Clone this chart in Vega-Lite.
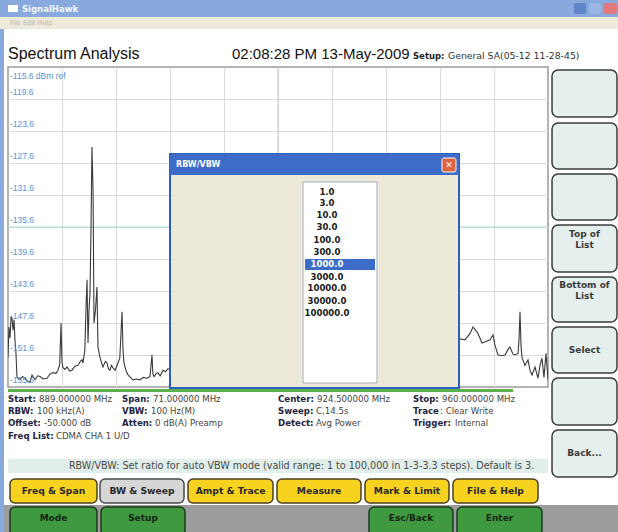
{
  "$schema": "https://vega.github.io/schema/vega-lite/v6.json",
  "autosize": {"type": "none"},
  "width": 540,
  "height": 320,
  "padding": {"left": 8, "top": 67, "right": 70, "bottom": 145},
  "background": "#ffffff",
  "config": {"view": {"stroke": "#9a9a9a", "strokeWidth": 1.5, "fill": "#ffffff"}, "text": {"font": "DejaVu Sans"}},
  "encoding": {
    "x": {"field": "x", "type": "quantitative", "scale": {"domain": [889, 960], "nice": false, "zero": false},
      "axis": {"values": [896.1, 903.2, 910.3, 917.4, 924.5, 931.6, 938.7, 945.8, 952.9], "grid": true, "gridColor": "#dadada", "labels": false, "ticks": false, "domain": false, "title": null}},
    "y": {"field": "y", "type": "quantitative", "scale": {"domain": [-155.6, -115.6], "nice": false, "zero": false},
      "axis": {"values": [-119.6, -123.6, -127.6, -131.6, -135.6, -139.6, -143.6, -147.6, -151.6], "grid": true, "gridColor": "#dadada", "labels": false, "ticks": false, "domain": false, "title": null}}
  },
  "layer": [
    {"data": {"values": [{"x": 924.5, "x2": 924.5, "y": -115.6, "y2": -155.6}, {"x": 889, "x2": 960, "y": -135.6, "y2": -135.6}]},
     "mark": {"type": "rule", "color": "#a9dcd6", "strokeWidth": 1}, "encoding": {"x2": {"field": "x2"}, "y2": {"field": "y2"}}},
    {"data": {"values": [
      {"x": 889.00, "y": -151.9}, {"x": 889.13, "y": -148.1}, {"x": 889.26, "y": -149.5}, {"x": 889.40, "y": -146.9}, {"x": 889.53, "y": -147.0}, {"x": 889.66, "y": -148.5}, {"x": 889.79, "y": -147.2}, {"x": 889.92, "y": -149.8}, {"x": 890.05, "y": -151.4}, {"x": 890.18, "y": -154.4}, {"x": 890.58, "y": -154.7}, {"x": 890.90, "y": -154.3}, {"x": 891.24, "y": -154.5}, {"x": 891.60, "y": -154.9}, {"x": 891.89, "y": -155.0}, {"x": 892.16, "y": -154.1}, {"x": 892.55, "y": -154.7}, {"x": 892.90, "y": -154.2}, {"x": 893.21, "y": -154.3}, {"x": 893.60, "y": -154.6}, {"x": 894.13, "y": -154.5}, {"x": 894.50, "y": -154.0}, {"x": 894.92, "y": -153.8}, {"x": 895.30, "y": -153.9}, {"x": 895.57, "y": -153.5}, {"x": 895.80, "y": -152.8}, {"x": 895.97, "y": -147.6}, {"x": 896.10, "y": -152.5}, {"x": 896.23, "y": -153.2}, {"x": 896.50, "y": -153.4}, {"x": 896.76, "y": -153.1}, {"x": 897.10, "y": -153.6}, {"x": 897.41, "y": -153.5}, {"x": 897.80, "y": -153.0}, {"x": 898.20, "y": -152.9}, {"x": 898.50, "y": -152.4}, {"x": 898.73, "y": -152.2}, {"x": 898.86, "y": -152.6}, {"x": 899.10, "y": -151.0}, {"x": 899.26, "y": -145.6}, {"x": 899.39, "y": -142.2}, {"x": 899.52, "y": -150.1}, {"x": 899.65, "y": -146.0}, {"x": 899.78, "y": -143.9}, {"x": 899.91, "y": -136.0}, {"x": 900.04, "y": -125.6}, {"x": 900.18, "y": -131.0}, {"x": 900.31, "y": -147.6}, {"x": 900.50, "y": -146.0}, {"x": 900.70, "y": -143.1}, {"x": 900.83, "y": -150.6}, {"x": 901.10, "y": -151.9}, {"x": 901.30, "y": -152.6}, {"x": 901.49, "y": -153.1}, {"x": 901.80, "y": -152.4}, {"x": 902.02, "y": -152.6}, {"x": 902.20, "y": -153.3}, {"x": 902.41, "y": -153.5}, {"x": 902.60, "y": -152.9}, {"x": 902.81, "y": -153.2}, {"x": 903.10, "y": -153.5}, {"x": 903.46, "y": -152.6}, {"x": 903.70, "y": -152.0}, {"x": 903.99, "y": -146.2}, {"x": 904.12, "y": -151.0}, {"x": 904.25, "y": -152.6}, {"x": 904.50, "y": -153.5}, {"x": 904.78, "y": -154.1}, {"x": 905.10, "y": -154.4}, {"x": 905.44, "y": -154.7}, {"x": 905.90, "y": -154.6}, {"x": 906.36, "y": -154.7}, {"x": 906.80, "y": -154.4}, {"x": 907.28, "y": -154.5}, {"x": 907.67, "y": -154.3}, {"x": 907.93, "y": -151.6}, {"x": 908.05, "y": -154.0}, {"x": 908.20, "y": -154.3}, {"x": 908.50, "y": -153.9}, {"x": 908.72, "y": -153.8}, {"x": 909.00, "y": -154.2}, {"x": 909.38, "y": -153.5}, {"x": 909.70, "y": -153.7}, {"x": 910.04, "y": -153.3}, {"x": 910.43, "y": -153.5},
      {"x": 948.56, "y": -149.6}, {"x": 949.09, "y": -149.7}, {"x": 949.75, "y": -148.9}, {"x": 950.14, "y": -148.1}, {"x": 950.40, "y": -148.4}, {"x": 950.67, "y": -148.7}, {"x": 951.06, "y": -149.5}, {"x": 951.32, "y": -150.1}, {"x": 951.85, "y": -149.9}, {"x": 952.37, "y": -149.7}, {"x": 952.77, "y": -149.1}, {"x": 953.03, "y": -150.4}, {"x": 953.43, "y": -151.6}, {"x": 953.95, "y": -151.7}, {"x": 954.35, "y": -151.6}, {"x": 954.74, "y": -150.9}, {"x": 955.00, "y": -150.6}, {"x": 955.40, "y": -151.5}, {"x": 955.66, "y": -151.6}, {"x": 956.06, "y": -151.4}, {"x": 956.19, "y": -149.7}, {"x": 956.32, "y": -146.2}, {"x": 956.45, "y": -150.4}, {"x": 956.58, "y": -151.9}, {"x": 956.97, "y": -152.9}, {"x": 957.37, "y": -152.2}, {"x": 957.63, "y": -153.5}, {"x": 957.90, "y": -154.1}, {"x": 958.29, "y": -153.1}, {"x": 958.68, "y": -154.5}, {"x": 958.95, "y": -152.9}, {"x": 959.21, "y": -152.0}, {"x": 959.47, "y": -154.4}, {"x": 959.74, "y": -151.4}, {"x": 960.00, "y": -154.7}
    ]}, "mark": {"type": "line", "color": "#3a3a3a", "strokeWidth": 1.1, "clip": true}, "encoding": {}},
    {"data": {"values": [{"x": 889.26, "y": -119.6, "t": "-119.6"}, {"x": 889.26, "y": -123.6, "t": "-123.6"}, {"x": 889.26, "y": -127.6, "t": "-127.6"}, {"x": 889.26, "y": -131.6, "t": "-131.6"}, {"x": 889.26, "y": -135.6, "t": "-135.6"}, {"x": 889.26, "y": -139.6, "t": "-139.6"}, {"x": 889.26, "y": -143.6, "t": "-143.6"}, {"x": 889.26, "y": -147.6, "t": "-147.6"}, {"x": 889.26, "y": -151.6, "t": "-151.6"}, {"x": 889.26, "y": -155.6, "t": "-155.6"}]},
     "mark": {"type": "text", "align": "left", "baseline": "alphabetic", "dy": -4, "font": "Liberation Sans", "fontSize": 8.5, "color": "#5a93d3", "clip": false}, "encoding": {"text": {"field": "t"}}},
    {"data": {"values": [{"x": 889.26, "y": -115.6, "t": "-115.6 dBm ref"}]},
     "mark": {"type": "text", "align": "left", "baseline": "alphabetic", "dy": 12, "font": "Liberation Sans", "fontSize": 8.5, "color": "#5a93d3", "clip": false}, "encoding": {"text": {"field": "t"}}},

    {"data": {"values": [{"x": 910.3, "x2": 948.3, "y": -126.475, "y2": -155.725}]},
     "mark": {"type": "rect", "fill": "#ece9d8", "stroke": "#2d5fc0", "strokeWidth": 2, "clip": false}, "encoding": {"x2": {"field": "x2"}, "y2": {"field": "y2"}}},
    {"data": {"values": [{"x": 910.3, "x2": 948.3, "y": -126.475, "y2": -129.1}]},
     "mark": {"type": "rect", "fill": "#3d6cc8", "cornerRadius": 2, "clip": false}, "encoding": {"x2": {"field": "x2"}, "y2": {"field": "y2"}}},
    {"data": {"values": [{"x": 946.06, "x2": 947.9, "y": -126.975, "y2": -128.725}]},
     "mark": {"type": "rect", "fill": "#e0653f", "stroke": "#ffffff", "strokeWidth": 1, "cornerRadius": 2, "clip": false}, "encoding": {"x2": {"field": "x2"}, "y2": {"field": "y2"}}},
    {"data": {"values": [{"x": 946.985, "y": -127.85, "t": "✕"}]},
     "mark": {"type": "text", "fontSize": 9, "fontWeight": "bold", "color": "#ffffff", "clip": false}, "encoding": {"text": {"field": "t"}}},
    {"data": {"values": [{"x": 911.09, "y": -127.85, "t": "RBW/VBW"}]},
     "mark": {"type": "text", "align": "left", "fontSize": 8, "fontWeight": "bold", "color": "#ffffff", "clip": false}, "encoding": {"text": {"field": "t"}}},
    {"data": {"values": [{"x": 927.787, "x2": 937.517, "y": -129.975, "y2": -155.1}]},
     "mark": {"type": "rect", "fill": "#ffffff", "stroke": "#a3acbd", "strokeWidth": 1, "clip": false}, "encoding": {"x2": {"field": "x2"}, "y2": {"field": "y2"}}},
    {"data": {"values": [{"x": 928.05, "x2": 937.254, "y": -139.6, "y2": -140.975}]},
     "mark": {"type": "rect", "fill": "#3a6cc8", "clip": false}, "encoding": {"x2": {"field": "x2"}, "y2": {"field": "y2"}}},
    {"data": {"values": [{"x": 930.94, "y": -131.225, "t": "1.0"}, {"x": 930.94, "y": -132.6, "t": "3.0"}, {"x": 930.94, "y": -134.1, "t": "10.0"}, {"x": 930.94, "y": -135.6, "t": "30.0"}, {"x": 930.94, "y": -137.225, "t": "100.0"}, {"x": 930.94, "y": -138.725, "t": "300.0"}, {"x": 930.94, "y": -141.85, "t": "3000.0"}, {"x": 930.94, "y": -143.225, "t": "10000.0"}, {"x": 930.94, "y": -144.85, "t": "30000.0"}, {"x": 930.94, "y": -146.35, "t": "100000.0"}]},
     "mark": {"type": "text", "font": "DejaVu Sans Condensed", "fontSize": 9.5, "fontWeight": "bold", "color": "#1a1a1a", "clip": false}, "encoding": {"text": {"field": "t"}}},
    {"data": {"values": [{"x": 930.94, "y": -140.225, "t": "1000.0"}]},
     "mark": {"type": "text", "font": "DejaVu Sans Condensed", "fontSize": 9.5, "fontWeight": "bold", "color": "#ffffff", "clip": false}, "encoding": {"text": {"field": "t"}}},

    {"data": {"values": [{"x": 887.95, "x2": 969.2, "y": -107.225, "y2": -109.35}, {"x": 887.95, "x2": 888.47, "y": -109.35, "y2": -173.725}]},
     "mark": {"type": "rect", "fill": "#88a9de", "clip": false}, "encoding": {"x2": {"field": "x2"}, "y2": {"field": "y2"}}},
    {"data": {"values": [{"x": 889.0, "x2": 890.31, "y": -107.85, "y2": -108.725}]},
     "mark": {"type": "rect", "fill": "#ffffff", "clip": false}, "encoding": {"x2": {"field": "x2"}, "y2": {"field": "y2"}}},
    {"data": {"values": [{"x": 963.42, "x2": 965.0, "y": -107.6, "y2": -108.975}]},
     "mark": {"type": "rect", "fill": "#5d85c8", "cornerRadius": 2, "clip": false}, "encoding": {"x2": {"field": "x2"}, "y2": {"field": "y2"}}},
    {"data": {"values": [{"x": 965.39, "x2": 966.97, "y": -107.6, "y2": -108.975}]},
     "mark": {"type": "rect", "fill": "#9ab6e4", "cornerRadius": 2, "clip": false}, "encoding": {"x2": {"field": "x2"}, "y2": {"field": "y2"}}},
    {"data": {"values": [{"x": 967.36, "x2": 969.07, "y": -107.6, "y2": -108.975}]},
     "mark": {"type": "rect", "fill": "#e07a7a", "cornerRadius": 2, "clip": false}, "encoding": {"x2": {"field": "x2"}, "y2": {"field": "y2"}}},
    {"data": {"values": [{"x": 890.84, "y": -108.29, "t": "SignalHawk"}]},
     "mark": {"type": "text", "align": "left", "fontSize": 8.5, "fontWeight": "bold", "color": "#f4f7ff", "clip": false}, "encoding": {"text": {"field": "t"}}},
    {"data": {"values": [{"x": 887.95, "x2": 969.2, "y": -109.35, "y2": -110.85}]},
     "mark": {"type": "rect", "fill": "#eeeadb", "clip": false}, "encoding": {"x2": {"field": "x2"}, "y2": {"field": "y2"}}},
    {"data": {"values": [{"x": 889.26, "y": -110.1, "t": "File   Edit   Help"}]},
     "mark": {"type": "text", "align": "left", "fontSize": 6.5, "color": "#bdb5a3", "clip": false}, "encoding": {"text": {"field": "t"}}},
    {"data": {"values": [{"x": 889.0, "y": -114.6, "t": "Spectrum Analysis"}]},
     "mark": {"type": "text", "align": "left", "baseline": "alphabetic", "font": "Liberation Sans", "fontSize": 16, "color": "#111111", "clip": false}, "encoding": {"text": {"field": "t"}}},
    {"data": {"values": [{"x": 918.45, "y": -114.6, "t": "02:08:28 PM 13-May-2009"}]},
     "mark": {"type": "text", "align": "left", "baseline": "alphabetic", "font": "Liberation Sans", "fontSize": 15, "color": "#111111", "clip": false}, "encoding": {"text": {"field": "t"}}},
    {"data": {"values": [{"x": 942.25, "y": -114.6, "t": "Setup:"}]},
     "mark": {"type": "text", "align": "left", "baseline": "alphabetic", "fontSize": 8.5, "fontWeight": "bold", "color": "#222222", "clip": false}, "encoding": {"text": {"field": "t"}}},
    {"data": {"values": [{"x": 946.85, "y": -114.6, "t": "General SA(05-12 11-28-45)"}]},
     "mark": {"type": "text", "align": "left", "baseline": "alphabetic", "fontSize": 9.3, "color": "#333333", "clip": false}, "encoding": {"text": {"field": "t"}}},

    {"data": {"values": [{"x": 960.53, "x2": 969.07, "y": -115.975, "y2": -121.85}, {"x": 960.53, "x2": 969.07, "y": -122.6, "y2": -128.35}, {"x": 960.53, "x2": 969.07, "y": -128.975, "y2": -134.725}, {"x": 960.53, "x2": 969.07, "y": -135.35, "y2": -141.225}, {"x": 960.53, "x2": 969.07, "y": -141.85, "y2": -147.475}, {"x": 960.53, "x2": 969.07, "y": -148.1, "y2": -153.85}, {"x": 960.53, "x2": 969.07, "y": -154.475, "y2": -160.35}, {"x": 960.53, "x2": 969.07, "y": -160.975, "y2": -166.85}]},
     "mark": {"type": "rect", "fill": "#e5efed", "stroke": "#3c3c3c", "strokeWidth": 1.5, "cornerRadius": 6, "clip": false}, "encoding": {"x2": {"field": "x2"}, "y2": {"field": "y2"}}},
    {"data": {"values": [{"x": 964.8, "y": -136.475, "t": "Top of"}, {"x": 964.8, "y": -137.85, "t": "List"}, {"x": 964.8, "y": -142.85, "t": "Bottom of"}, {"x": 964.8, "y": -144.225, "t": "List"}, {"x": 964.8, "y": -150.975, "t": "Select"}, {"x": 964.8, "y": -163.85, "t": "Back..."}]},
     "mark": {"type": "text", "fontSize": 9, "fontWeight": "bold", "color": "#3a3a3a", "clip": false}, "encoding": {"text": {"field": "t"}}},

    {"data": {"values": [{"x": 889.0, "x2": 955.4, "y": -155.85, "y2": -156.225}]},
     "mark": {"type": "rect", "fill": "#5cb04c", "clip": false}, "encoding": {"x2": {"field": "x2"}, "y2": {"field": "y2"}}},
    {"data": {"values": [
      {"x": 889.0, "y": -157.1, "t": "Start:"}, {"x": 903.99, "y": -157.1, "t": "Span:"}, {"x": 924.5, "y": -157.1, "t": "Center:"}, {"x": 942.25, "y": -157.1, "t": "Stop:"},
      {"x": 889.0, "y": -158.6, "t": "RBW:"}, {"x": 903.99, "y": -158.6, "t": "VBW:"}, {"x": 924.5, "y": -158.6, "t": "Sweep:"}, {"x": 942.25, "y": -158.6, "t": "Trace"},
      {"x": 889.0, "y": -160.1, "t": "Offset:"}, {"x": 903.99, "y": -160.1, "t": "Atten:"}, {"x": 924.5, "y": -160.1, "t": "Detect:"}, {"x": 942.25, "y": -160.1, "t": "Trigger:"},
      {"x": 889.0, "y": -161.725, "t": "Freq List:"}]},
     "mark": {"type": "text", "align": "left", "fontSize": 8.6, "fontWeight": "bold", "color": "#23233f", "clip": false}, "encoding": {"text": {"field": "t"}}},
    {"data": {"values": [
      {"x": 893.08, "y": -157.1, "t": "889.000000 MHz"}, {"x": 908.07, "y": -157.1, "t": "71.000000 MHz"}, {"x": 929.63, "y": -157.1, "t": "924.500000 MHz"}, {"x": 946.06, "y": -157.1, "t": "960.000000 MHz"},
      {"x": 892.81, "y": -158.6, "t": "100 kHz(A)"}, {"x": 907.8, "y": -158.6, "t": "100 Hz(M)"}, {"x": 929.5, "y": -158.6, "t": "C,14.5s"}, {"x": 945.8, "y": -158.6, "t": " : Clear Write"},
      {"x": 893.73, "y": -160.1, "t": "-50.000 dB"}, {"x": 908.33, "y": -160.1, "t": "0 dB(A) Preamp"}, {"x": 929.5, "y": -160.1, "t": "Avg Power"}, {"x": 947.77, "y": -160.1, "t": "Internal"},
      {"x": 895.31, "y": -161.725, "t": "CDMA CHA 1 U/D"}]},
     "mark": {"type": "text", "align": "left", "fontSize": 8.6, "color": "#444444", "clip": false}, "encoding": {"text": {"field": "t"}}},
    {"data": {"values": [{"x": 889.0, "x2": 960.0, "y": -164.6, "y2": -166.35}]},
     "mark": {"type": "rect", "fill": "#e1eee9", "clip": false}, "encoding": {"x2": {"field": "x2"}, "y2": {"field": "y2"}}},
    {"data": {"values": [{"x": 927.6, "y": -165.475, "t": "RBW/VBW: Set ratio for auto VBW mode (valid range: 1 to 100,000 in 1-3-3.3 steps). Default is 3."}]},
     "mark": {"type": "text", "fontSize": 9.6, "color": "#4a4a4a", "clip": false}, "encoding": {"text": {"field": "t"}}},

    {"data": {"values": [{"x": 889.263, "x2": 900.702, "y": -167.1, "y2": -170.1}, {"x": 912.667, "x2": 923.843, "y": -167.1, "y2": -170.1}, {"x": 924.369, "x2": 935.413, "y": -167.1, "y2": -170.1}, {"x": 935.939, "x2": 946.983, "y": -167.1, "y2": -170.1}, {"x": 947.509, "x2": 958.685, "y": -167.1, "y2": -170.1}]},
     "mark": {"type": "rect", "fill": "#f7d21e", "stroke": "#4a4020", "strokeWidth": 1.5, "cornerRadius": 5, "clip": false}, "encoding": {"x2": {"field": "x2"}, "y2": {"field": "y2"}}},
    {"data": {"values": [{"x": 901.096, "x2": 912.141, "y": -167.1, "y2": -170.1}]},
     "mark": {"type": "rect", "fill": "#d6d6d6", "stroke": "#4a4a4a", "strokeWidth": 1.5, "cornerRadius": 5, "clip": false}, "encoding": {"x2": {"field": "x2"}, "y2": {"field": "y2"}}},
    {"data": {"values": [{"x": 894.982, "y": -168.6, "t": "Freq & Span"}, {"x": 906.618, "y": -168.6, "t": "BW & Sweep"}, {"x": 918.255, "y": -168.6, "t": "Ampt &  Trace"}, {"x": 929.891, "y": -168.6, "t": "Measure"}, {"x": 941.461, "y": -168.6, "t": "Mark & Limit"}, {"x": 953.097, "y": -168.6, "t": "File & Help"}]},
     "mark": {"type": "text", "fontSize": 9.2, "fontWeight": "bold", "color": "#2a2a2a", "clip": false}, "encoding": {"text": {"field": "t"}}},

    {"data": {"values": [{"x": 888.474, "x2": 969.2, "y": -170.35, "y2": -173.725}]},
     "mark": {"type": "rect", "fill": "#9c9c9c", "clip": false}, "encoding": {"x2": {"field": "x2"}, "y2": {"field": "y2"}}},
    {"data": {"values": [{"x": 889.263, "x2": 900.702, "y": -170.6, "y2": -174.2}, {"x": 901.228, "x2": 912.272, "y": -170.6, "y2": -174.2}, {"x": 936.465, "x2": 947.509, "y": -170.6, "y2": -174.2}, {"x": 948.035, "x2": 959.211, "y": -170.6, "y2": -174.2}]},
     "mark": {"type": "rect", "fill": "#3f9a3f", "stroke": "#1e3a1e", "strokeWidth": 1.5, "cornerRadius": 5, "clip": false}, "encoding": {"x2": {"field": "x2"}, "y2": {"field": "y2"}}},
    {"data": {"values": [{"x": 894.982, "y": -171.975, "t": "Mode"}, {"x": 906.75, "y": -171.975, "t": "Setup"}, {"x": 941.987, "y": -171.975, "t": "Esc/Back"}, {"x": 953.623, "y": -171.975, "t": "Enter"}]},
     "mark": {"type": "text", "fontSize": 9, "fontWeight": "bold", "color": "#142414", "clip": false}, "encoding": {"text": {"field": "t"}}}
  ]
}
